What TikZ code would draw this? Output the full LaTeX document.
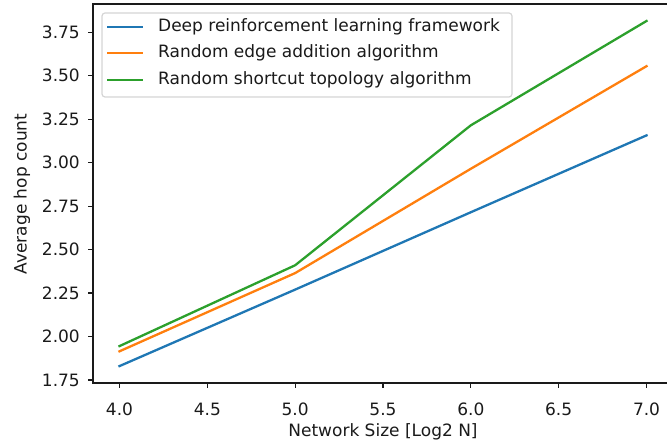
\documentclass[tikz,border=0pt]{standalone}
\usepackage{fontspec}
\setmainfont{DejaVu Sans}
\definecolor{cblue}{HTML}{1F77B4}
\definecolor{corange}{HTML}{FF7F0E}
\definecolor{cgreen}{HTML}{2CA02C}
\definecolor{frame}{HTML}{D5D5D5}
\definecolor{ink}{HTML}{1A1A1A}
\tikzset{
  spine/.style={draw=ink, line width=1.2bp},
  tickmark/.style={draw=ink, line width=1.2bp},
  ticklabel/.style={inner sep=0pt, text=ink},
  series/.style={line width=2.3bp, line join=round, line cap=rect},
  legendframe/.style={draw=frame, line width=1.2bp, rounded corners=3bp, fill=white},
  legendtext/.style={inner sep=0pt, anchor=west, text=ink},
}
\begin{document}
\begin{tikzpicture}[x=1bp, y=1bp, font=\fontsize{17bp}{20bp}\selectfont]
\useasboundingbox (0,0) rectangle (667,442);
\clip (0,0) rectangle (667,442);
% axes frame (right spine lies outside the picture)
\coordinate (bl) at (93,59);
\coordinate (tl) at (93,438);
\coordinate (br) at (673,59);
\coordinate (tr) at (673,438);
\draw[spine] (br) -- (bl) -- (tl) -- (tr) -- (br);
% x ticks
\foreach \k/\lab in {0/4.0,1/4.5,2/5.0,3/5.5,4/6.0,5/6.5,6/7.0}{
  \pgfmathsetmacro\tx{119.5+\k*87.835}
  \coordinate (xt\k) at (\tx,59);
  \draw[tickmark] (xt\k) -- ++(0,-5.4);
  \node[ticklabel] (xl\k) at (\tx,33) {\lab};
}
% y ticks
\foreach \k/\lab in {0/1.75,1/2.00,2/2.25,3/2.50,4/2.75,5/3.00,6/3.25,7/3.50,8/3.75}{
  \pgfmathsetmacro\ty{62+\k*43.4625}
  \coordinate (yt\k) at (93,\ty);
  \draw[tickmark] (yt\k) -- ++(-5.4,0);
  \node[ticklabel, anchor=east] (yl\k) at (80,\ty) {\lab};
}
% axis labels
\node[ticklabel] (xlabel) at (383,10) {Network Size [Log2 N]};
\node[ticklabel, rotate=90] (ylabel) at (22,248) {Average hop count};
% data
\begin{scope}[x=175.67bp, y=173.85bp, shift={(-583.18bp,-242.24bp)}]
  \draw[series, cblue] (4,1.83) -- (5,2.27) -- (6,2.715) -- (7,3.157);
  \draw[series, corange] (4,1.915) -- (5,2.365) -- (6,2.965) -- (7,3.555);
  \draw[series, cgreen] (4,1.945) -- (5,2.41) -- (6,3.215) -- (7,3.815);
\end{scope}
% legend
\draw[legendframe] (102,345) rectangle (512,429);
\coordinate (la1) at (107,415);   \coordinate (lb1) at (143,415);
\coordinate (la2) at (107,388.7); \coordinate (lb2) at (143,388.7);
\coordinate (la3) at (107,362);   \coordinate (lb3) at (143,362);
\draw[series, cblue, line cap=butt] (la1) -- (lb1);
\draw[series, corange, line cap=butt] (la2) -- (lb2);
\draw[series, cgreen, line cap=butt] (la3) -- (lb3);
\node[legendtext] (lt1) at (158,415) {Deep reinforcement learning framework};
\node[legendtext] (lt2) at (158,388.7) {Random edge addition algorithm};
\node[legendtext] (lt3) at (158,362) {Random shortcut topology algorithm};
\end{tikzpicture}
\end{document}
